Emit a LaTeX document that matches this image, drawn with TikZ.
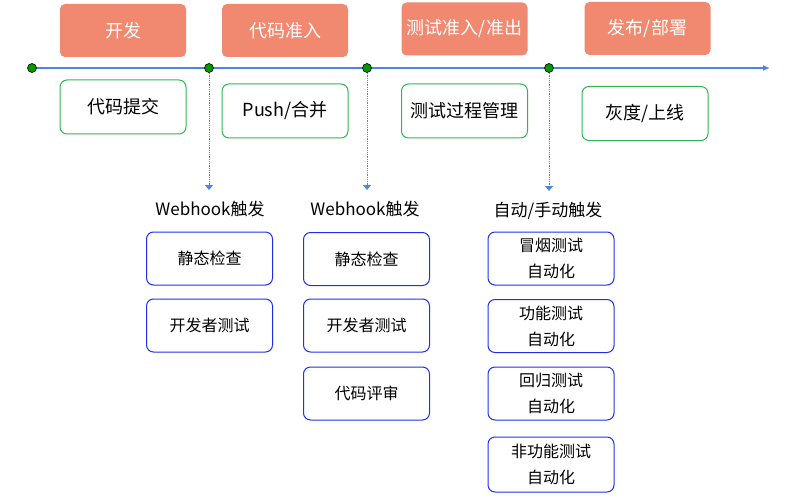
\documentclass[tikz,border=0pt]{standalone}
\usepackage{fontspec}
\setmainfont{Noto Sans CJK SC}
\usetikzlibrary{arrows.meta}
\definecolor{red1}{HTML}{F0896F}
\definecolor{grn}{HTML}{2DB84D}
\definecolor{blu}{HTML}{1F2FF0}
\definecolor{tlc}{HTML}{4A86E0}
\begin{document}
\begin{tikzpicture}[x=1pt,y=-1pt,
 top/.style={fill=red1,draw=none,rounded corners=5pt,minimum width=126pt,minimum height=53pt,text=white,font=\fontsize{18}{20}\selectfont},
 mid/.style={draw=grn,line width=1pt,rounded corners=7pt,minimum width=126pt,minimum height=54pt,font=\fontsize{18}{20}\selectfont},
 sub/.style={draw=blu,line width=1pt,rounded corners=7pt,minimum width=126pt,minimum height=53pt,font=\fontsize{16}{26}\selectfont,align=center},
 dot/.style={circle,fill=green!60!black,draw=black,line width=0.6pt,inner sep=0pt,minimum size=9pt},
 lab/.style={font=\fontsize{17}{20}\selectfont},
 dnarrow/.style={densely dotted,line width=0.8pt,draw=tlc,-{Triangle[width=8pt,length=5pt]}}]
\useasboundingbox (0,0) rectangle (800,500);
\node[top] (t1) at (123,30.5) {开发};
\node[top] (t2) at (285,30.5) {代码准入};
\node[top] (t3) at (464.5,29) {测试准入/准出};
\node[top] (t4) at (647.5,28.5) {发布/部署};
\coordinate (s) at (32,68);
\coordinate (e) at (770,68);
\draw[tlc,line width=1.5pt,-{Latex[length=7pt,width=6pt]}] (s) -- (e);
\node[dot] (d0) at (32,68) {};
\node[dot] (d1) at (209,68) {};
\node[dot] (d2) at (367,68) {};
\node[dot] (d3) at (549,68) {};
\node[mid] (m1) at (123,107) {代码提交};
\node[mid] (m2) at (285,111) {Push/合并};
\node[mid] (m3) at (464.5,111) {测试过程管理};
\node[mid] (m4) at (645,113.5) {灰度/上线};
\coordinate (a1) at (209,190);
\coordinate (a2) at (367,190);
\coordinate (a3) at (549,191);
\draw[dnarrow] (d1) -- (a1);
\draw[dnarrow] (d2) -- (a2);
\draw[dnarrow] (d3) -- (a3);
\node[lab] (l1) at (210,209) {Webhook触发};
\node[lab] (l2) at (365,209) {Webhook触发};
\node[lab] (l3) at (548,211) {自动/手动触发};
\node[sub] (b11) at (209.5,258.5) {静态检查};
\node[sub] (b12) at (209.5,325.5) {开发者测试};
\node[sub] (b21) at (366.5,259) {静态检查};
\node[sub] (b22) at (366.5,325.5) {开发者测试};
\node[sub] (b23) at (366.5,393.5) {代码评审};
\node[sub] (b31) at (551,258.5) {冒烟测试\\自动化};
\node[sub] (b32) at (551,326) {功能测试\\自动化};
\node[sub] (b33) at (551,393.5) {回归测试\\自动化};
\node[sub,minimum height=55pt] (b34) at (551,464.5) {非功能测试\\自动化};
\end{tikzpicture}
\end{document}
